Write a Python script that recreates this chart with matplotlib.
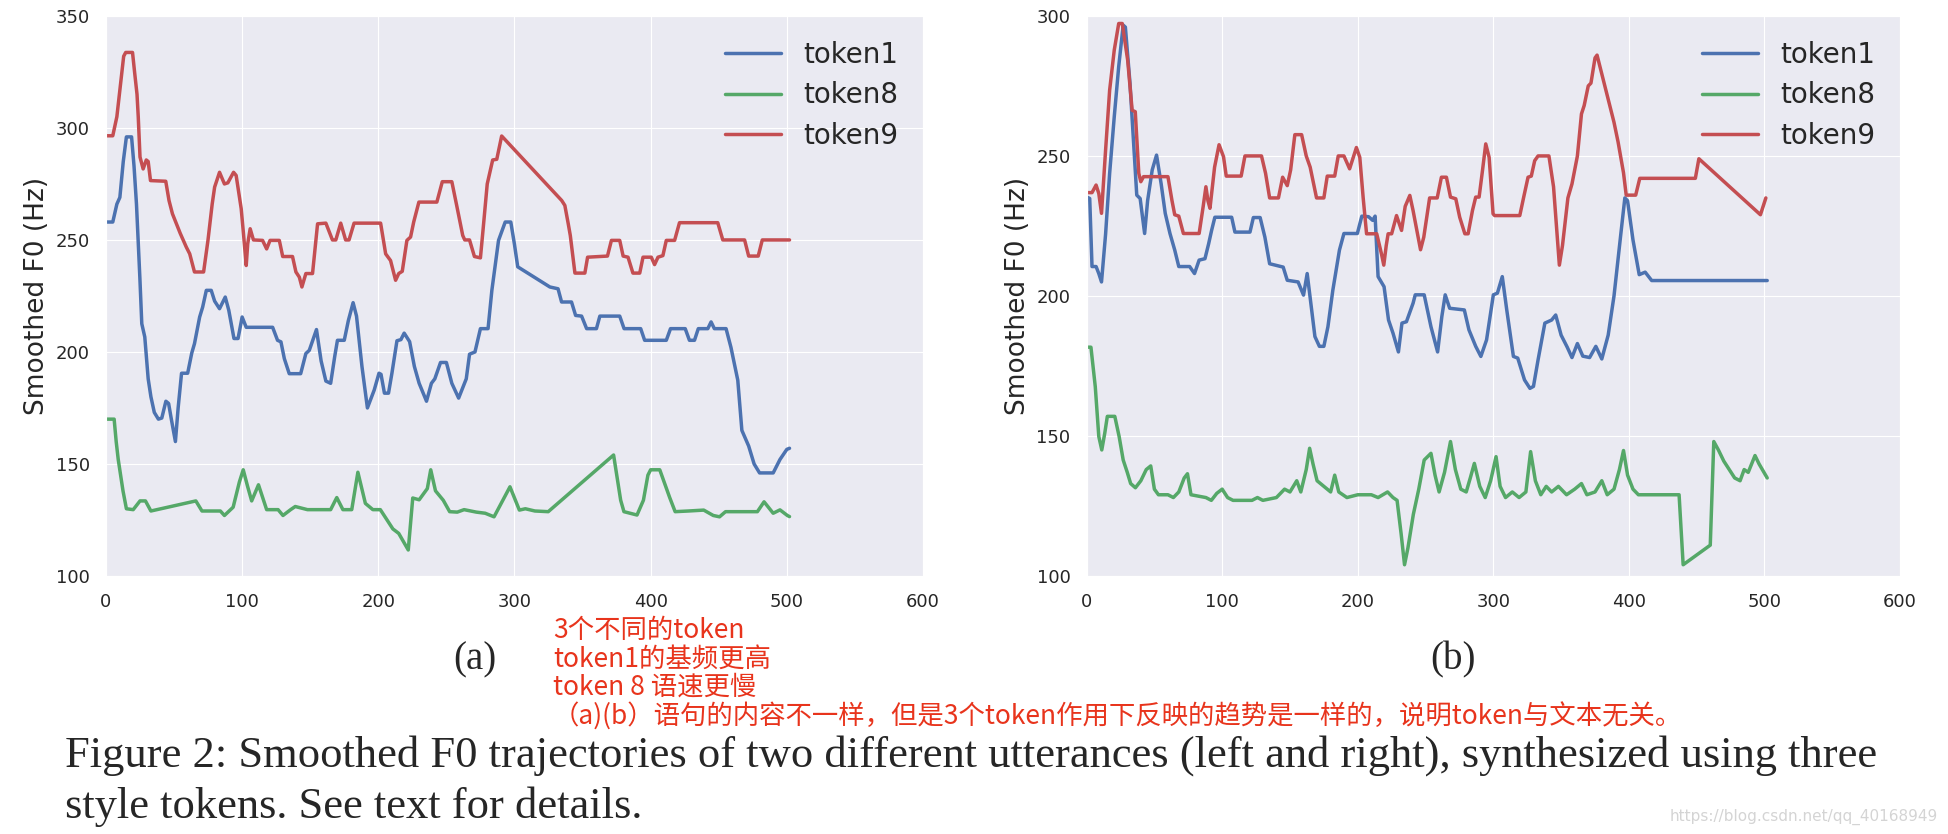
import matplotlib
matplotlib.use("Agg")
import matplotlib.pyplot as plt
import seaborn as sns

# (frame, Hz) points
a_token1 = [(0, 258), (5, 258), (8, 266), (10.2, 269), (12.7, 285), (15, 296), (18.8, 296), (20.6, 283),
            (22.4, 266), (24.9, 233), (26.3, 212.6), (28.5, 206.7), (31, 188), (33, 180), (35.5, 173),
            (38.5, 170), (41, 170.5), (44, 178), (46, 177), (48, 170), (51, 160), (53, 175), (55.5, 190.5),
            (60, 190.5), (63, 199.5), (65, 203.7), (68.8, 215.6), (71, 220), (73.7, 227.5), (77.3, 227.5),
            (79.8, 222.7), (83.4, 219.3), (87.6, 224.5), (90.2, 218.6), (94, 206), (97, 206), (100, 215.6),
            (103, 211), (122.4, 211), (126, 205.2), (128.5, 204.5), (131, 197), (134.6, 190.3), (143, 190.3),
            (146.8, 199.3), (149.3, 200.7), (154.6, 210), (158, 196), (161.5, 187), (165, 186), (168, 198),
            (170, 205.2), (175, 205.2), (178, 214), (181.5, 222), (184, 216), (188, 193.5), (192, 175),
            (197, 183), (200.5, 190.5), (202, 190), (204.5, 181.6), (207.5, 181.6), (210, 190.5), (213.7, 205),
            (216.6, 205.5), (219, 208.4), (223, 204.6), (226.5, 193.5), (230, 186), (235.4, 178), (239, 186),
            (241.5, 188), (245.7, 195.3), (250, 195.3), (254, 186), (259, 179.4), (264.6, 188), (267, 199),
            (271, 200), (275, 210.4), (280.6, 210.4), (283.4, 227.5), (288.3, 249.8), (293.2, 258),
            (297.3, 258), (300, 248), (302.4, 238), (326, 229), (332, 228.2), (334.6, 222.3), (341.9, 222.3),
            (344.9, 216.3), (349.3, 216), (353, 210.4), (360.2, 210.4), (362.7, 216), (377.3, 216),
            (380.5, 210.4), (392.7, 210.4), (395.6, 205.2), (411.5, 205.2), (414.6, 210.4), (425.4, 210.4),
            (428.5, 205.2), (432.2, 205.2), (435, 210.4), (442, 210.4), (444.4, 213.4), (446.8, 210.4),
            (455.4, 210.4), (459, 202), (464, 187.4), (467, 165), (472, 158), (476, 150), (480, 146),
            (490, 146), (495, 152), (500, 156.5), (502, 157)]

a_token8 = [(0, 170), (6, 170), (7.5, 160), (9, 152), (12.5, 138), (15, 130), (20, 129.6), (25, 133.5),
            (29, 133.5), (33, 129), (66, 133.5), (70.5, 129), (84, 129), (87, 127), (93.4, 130.7), (98, 142),
            (100.8, 147.4), (104, 140), (107, 133.5), (112, 140.7), (118, 129.6), (126.4, 129.6), (130, 127),
            (135.6, 129.6), (139, 131), (148, 129.6), (165, 129.6), (169.5, 135), (174, 129.6), (180.5, 129.6),
            (185, 146.3), (190.5, 132.4), (196, 129.6), (201.5, 129.6), (210.7, 121), (215, 119), (222, 111.6),
            (225.3, 134.8), (230, 134), (236, 139), (238.5, 147.4), (242, 138), (247.7, 133.8), (252.4, 128.7),
            (258, 128.5), (263, 129.6), (272, 128.5), (278.5, 128), (285, 126.4), (296.7, 139.8), (303.6, 129.4),
            (308, 130), (315, 129), (324.8, 128.7), (372.8, 154), (378, 133.8), (380.4, 128.7), (390, 127.2),
            (394.7, 133.8), (398, 145), (400, 147.4), (406.7, 147.4), (414, 135), (418, 128.7), (427.8, 129),
            (439, 129.4), (446, 127), (450.6, 126.4), (455, 128.7), (478.4, 128.7), (483.3, 133.1), (490, 128),
            (495, 129.5), (500.4, 127), (502, 126.5)]

a_token9 = [(0, 296.5), (5, 296.5), (8, 305), (13, 332), (14.5, 333.7), (19.5, 333.7), (21, 325), (22.8, 315),
            (23.7, 305), (25, 287), (27.3, 281.7), (29.6, 285.7), (31, 285), (32.7, 276.5), (43.9, 276.2),
            (46.3, 267.6), (48.8, 261.7), (54.5, 253), (59, 246.8), (61.5, 243.8), (65, 235.7), (71.7, 235.7),
            (74.9, 249.8), (78, 266), (79.8, 273.6), (83.4, 280.2), (87, 275), (89.5, 275.5), (93.7, 280.2),
            (95.6, 278.8), (99.3, 264), (101, 252.7), (103, 238.6), (104.1, 248.3), (105.9, 255), (108.3, 250),
            (115, 249.8), (118, 246), (120.5, 249.8), (127.3, 249.8), (129.8, 242.6), (137, 242.6),
            (139.5, 235.7), (142, 233.4), (143.9, 229), (146.8, 235), (151.7, 235), (155.4, 257.2),
            (161.5, 257.5), (166.3, 250), (168.8, 250), (172.4, 257.5), (176, 250), (178.5, 250),
            (182.2, 257.5), (201.7, 257.5), (205.4, 243.8), (209, 240.8), (212.7, 232), (215, 235),
            (217.6, 236), (221, 249.8), (223.7, 251.3), (226, 258), (229.8, 266.9), (243, 266.9), (247, 276),
            (254, 276), (257.5, 265.6), (262, 252), (263.5, 250), (267, 250), (270.6, 242.6), (275, 242),
            (277, 255), (280, 275), (284, 285.7), (287, 286), (290.6, 296.4), (334.7, 267.6), (337, 265.4),
            (339.5, 257.2), (341, 252), (344.4, 235.2), (351.7, 235.2), (353.7, 242.3), (368.3, 242.8),
            (371.2, 249.8), (377.3, 249.8), (379.8, 242.8), (383.4, 242.3), (387, 235.2), (392, 235.2),
            (394.4, 242.3), (400.5, 242.3), (402.9, 239), (405.4, 242.3), (409, 243), (411.5, 249.8),
            (417.6, 249.8), (421.2, 257.7), (449.3, 257.7), (453, 250), (469, 250), (472, 242.8),
            (479, 242.8), (482, 250), (502, 250)]

b_token1 = [(0, 235.4), (2.3, 234.8), (4, 210.5), (7, 210.5), (9, 208), (11, 205), (14, 222), (17, 243.8),
            (20.4, 264), (23.7, 282), (27, 296.7), (28.6, 296), (32, 276), (35, 252), (37, 236), (39.5, 234.8),
            (42.8, 222.3), (45, 234), (48.4, 245), (51.6, 250.3), (55, 240), (58, 229.5), (61.5, 222.3),
            (65, 216.4), (68, 210.5), (76, 210.5), (79.6, 208), (83, 212.8), (87.3, 213.3), (90, 218.6),
            (92.2, 223.4), (94.6, 228.1), (107, 228.1), (109.4, 222.8), (120.5, 222.8), (123, 228), (128, 228),
            (131.5, 221), (135, 211.5), (145, 210.3), (148, 205.6), (156, 205), (160, 200.3), (162.7, 208),
            (166, 195), (168.4, 185.5), (171.7, 182), (175, 182), (178, 189), (181.6, 202), (186.5, 216.4),
            (189.8, 222.3), (199.7, 222.3), (203, 228.5), (208, 228.3), (211, 227), (212.8, 228.5), (215, 206.9),
            (219.4, 203.3), (222.7, 191.4), (226, 186.7), (230, 180), (232.6, 190.3), (235.9, 190.8),
            (240.8, 197.4), (242.4, 200.4), (249, 200.4), (254, 189), (258.9, 180), (262, 192.6), (264.5, 200.4),
            (267.8, 195.6), (278.6, 195), (282, 187.9), (287, 182), (290.8, 178.4), (295, 184.3), (300, 200.4),
            (303, 201), (306.6, 206.9), (309.9, 195), (314.8, 178.4), (318, 177.8), (323, 170), (327, 167),
            (329.6, 167.7), (333, 177.2), (338, 190.3), (343, 191.4), (346, 193.2), (350, 186), (354.5, 181.7),
            (358, 178), (362, 183), (366, 178.5), (371, 178), (375.6, 182), (380, 177.5), (384.7, 186),
            (389, 200), (394, 222), (397, 235), (399, 234), (403, 220), (407.6, 207.6), (412, 208.5),
            (416.8, 205.5), (502, 205.5)]

b_token8 = [(0, 181.7), (3.2, 181.7), (6.4, 167.6), (9, 149.8), (11.2, 145), (13.4, 151), (15.3, 157),
            (20.8, 157), (24, 149.8), (27, 141.4), (30, 137), (32.5, 133), (36, 131.5), (40, 134), (44, 138),
            (47.3, 139.3), (50, 131), (53, 129), (60, 129), (64, 128), (68, 130), (72, 135), (74.4, 136.5),
            (77, 129), (88, 128), (92, 127), (96, 129.5), (100, 131), (104, 128), (108, 127), (122, 127),
            (126, 128), (130, 127), (140, 128), (146, 131), (150, 130), (155, 134), (158, 130), (162, 138),
            (164.5, 145.6), (167, 140), (170, 134), (175, 132), (180, 130), (183, 136), (186, 130), (192, 128),
            (200, 129), (210, 129), (215, 128), (222, 130), (226, 128), (229, 127), (232, 115), (234.5, 104),
            (237, 110), (241, 122), (245, 131), (249, 141.4), (254, 143.8), (257, 136), (260, 130), (264, 137),
            (268.4, 148), (272, 138), (276, 131), (280, 130), (283, 135), (286, 140.2), (290, 132), (294, 128),
            (298, 134), (302, 142.6), (305, 132), (309, 128), (314, 130), (319, 128), (324, 130), (327.5, 144.4),
            (331, 134), (335, 129), (339, 132), (343, 130), (348, 132), (354, 129), (360, 131), (365, 133),
            (369, 129), (375, 130), (380, 134), (384, 129), (389, 131), (393, 138), (396, 144.8), (399, 136),
            (403, 131), (407, 129), (437, 129), (440, 104), (460, 111), (462.6, 148), (466, 145), (470, 141),
            (474, 138), (478, 135), (482, 134), (485, 138), (488, 137), (493, 143), (496, 140), (502, 135)]

b_token9 = [(0, 236.9), (4, 236.9), (7, 239.6), (9, 236.6), (11, 229.5), (14, 252), (17, 273.5), (20.4, 287.8),
            (23.7, 297.3), (26.3, 297.3), (30.3, 284.2), (33.6, 266.3), (35.9, 265.8), (38.5, 243.8),
            (40, 240.8), (42, 242.6), (60, 242.6), (63, 234), (65, 229), (68, 228.5), (71.4, 222.3), (83, 222.3),
            (86, 232), (88, 239), (89.5, 234), (91, 231.3), (94.4, 246), (97.7, 254), (101, 249.7), (103, 242.8),
            (114, 242.8), (116.8, 250), (129, 250), (132, 243.8), (135, 235), (141.5, 235), (144.6, 242.4),
            (148, 239.4), (150.5, 245), (153.6, 257.6), (158.6, 257.6), (162, 250), (164.9, 246), (169.6, 235),
            (175, 235), (177.5, 242.8), (183, 242.8), (185.6, 250), (189.8, 250), (194, 245.4), (199, 253),
            (201.5, 249.5), (204, 235), (206.5, 222.2), (214, 222.2), (217.5, 215), (219.2, 211), (221, 218),
            (222.4, 222.2), (225, 222.2), (228.6, 228.7), (232.3, 223.4), (235, 232), (238.4, 235.9),
            (240.8, 230.5), (246.3, 216.5), (248.7, 221), (253, 235), (258.6, 235), (261.7, 242.4),
            (265.4, 242.4), (268.4, 235.3), (272.3, 234.7), (275.2, 228.1), (279, 222.2), (281.4, 222.2),
            (284.6, 230.5), (287, 235.3), (289.5, 235.3), (292, 244.8), (294.4, 254.3), (296.9, 249.5),
            (299.8, 229.3), (301, 228.7), (319.5, 228.7), (322.4, 235.3), (325.6, 242.4), (328, 242.8),
            (330.5, 248.3), (333, 250), (341, 250), (344.4, 239), (348.7, 211), (351, 218), (355, 235),
            (358, 240), (362, 250), (365, 265), (367, 268), (370, 275), (372, 276), (375, 285), (376.5, 286),
            (389, 262), (392, 255), (396, 244), (398, 236), (405, 236), (408, 242), (449, 242), (451.6, 249),
            (497, 229), (501, 235)]

token_names = ["token1", "token8", "token9"]
token_colors = ["#4C72B0", "#55A868", "#C44E52"]
panel_ylims = [(100, 350), (100, 300)]
panel_labels = ["(a)", "(b)"]

note_lines = ["3个不同的token", "token1的基频更高", "token 8 语速更慢",
              "（a)(b）语句的内容不一样，但是3个token作用下反映的趋势是一样的，说明token与文本无关。"]
caption_lines = ["Figure 2: Smoothed F0 trajectories of two different utterances (left and right), synthesized using three",
                 "style tokens. See text for details."]

sns.set_style("darkgrid")
plt.rcParams["font.family"] = ["DejaVu Sans"]

fig = plt.figure(figsize=(19.48, 8.34), dpi=100)
ax_a = fig.add_axes([0.0544, 0.3094, 0.4194, 0.6715])
ax_b = fig.add_axes([0.5578, 0.3094, 0.4176, 0.6715])

for ax, series, ylim in [(ax_a, [a_token1, a_token8, a_token9], panel_ylims[0]),
                         (ax_b, [b_token1, b_token8, b_token9], panel_ylims[1])]:
    for pts, name, col in zip(series, token_names, token_colors):
        x, y = zip(*pts)
        ax.plot(x, y, color=col, lw=2.5, label=name, solid_joinstyle="round")
    ax.set_xlim(0, 600)
    ax.set_ylim(*ylim)
    ax.set_xticks(range(0, 601, 100))
    ax.set_yticks(range(ylim[0], ylim[1] + 1, 50))
    ax.tick_params(axis="x", labelsize=13, pad=9, colors=".15")
    ax.tick_params(axis="y", labelsize=13, pad=8, colors=".15")
    ax.set_ylabel("Smoothed F0 (Hz)", fontsize=19, labelpad=4, color=".15")
    ax.legend(loc="upper right", fontsize=20, frameon=False, handlelength=2.0,
              borderaxespad=0.5, labelspacing=0.45)

serif = ["Liberation Serif", "DejaVu Serif"]
fig.text(0.2438, 0.2086, panel_labels[0], fontsize=28, family=serif, ha="center", va="center")
fig.text(0.7459, 0.2086, panel_labels[1], fontsize=28, family=serif, ha="center", va="center")

cjk = ["Noto Sans CJK SC", "DejaVu Sans"]
for txt, yy in zip(note_lines, [0.2446, 0.2098, 0.1763, 0.1403]):
    fig.text(0.2839, yy, txt, fontsize=19, family=cjk, color="#e8341c", ha="left", va="center")

for txt, yy in zip(caption_lines, [0.0947, 0.0330]):
    fig.text(0.0334, yy, txt, fontsize=32, family=serif, ha="left", va="center")

fig.text(0.995, 0.02, "https://blog.csdn.net/qq_40168949", fontsize=11, color="#d4d4d4",
         ha="right", va="center")

fig.savefig("out.png", dpi=100)
